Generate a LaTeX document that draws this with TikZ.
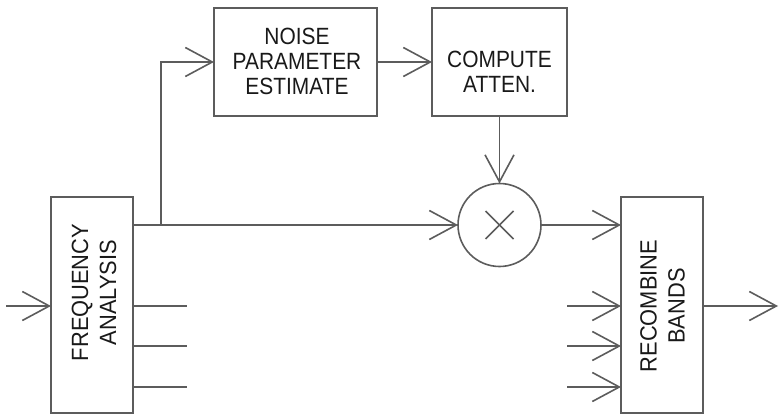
\documentclass[tikz,border=0pt]{standalone}
\usepackage{fontspec}
\setmainfont{Liberation Sans}
% slightly condensed faces for the block captions
\newfontfamily\flatcaption[FakeStretch=0.89]{Liberation Sans}
\newfontfamily\tallcaption[FakeStretch=0.93]{Liberation Sans}
\usetikzlibrary{arrows.meta}
\definecolor{linegray}{RGB}{92,92,92}
\definecolor{inkblack}{RGB}{25,25,25}
\begin{document}
\begin{tikzpicture}[x=1pt,y=-1pt,
  every node/.style={inner sep=0pt, outer sep=0pt},
  blockbox/.style={draw=linegray, line width=1.6pt, rectangle},
  flat text/.style={text=inkblack, align=center, font=\flatcaption\fontsize{23.5}{25}\selectfont},
  upright text/.style={text=inkblack, align=center, rotate=90, font=\tallcaption\fontsize{23.5}{28}\selectfont},
  wire/.style={draw=linegray, line width=1.6pt},
  arr/.style={wire, -{Straight Barb[length=27pt,width=29pt,line width=1.6pt]}}]
\useasboundingbox (0,0) rectangle (779,414);

% blocks
\node[blockbox, minimum width=82pt, minimum height=216pt] (fa) at (92,305) {};
\node[upright text] (fatext) at (94,292.5) {FREQUENCY\\ANALYSIS};
\node[blockbox, minimum width=163pt, minimum height=108pt] (ne) at (295.5,62) {};
\node[flat text] (netext) at (297,61.5) {NOISE\\PARAMETER\\ESTIMATE};
\node[blockbox, minimum width=135pt, minimum height=108pt] (ca) at (499.5,62) {};
\node[flat text] (catext) at (499.5,72) {COMPUTE\\ATTEN.};
\node[draw=linegray, line width=1.6pt, circle, minimum size=83pt] (mul) at (499.5,225) {};
\node[blockbox, minimum width=82pt, minimum height=216pt] (rb) at (662,305) {};
\node[upright text] (rbtext) at (662.5,306) {RECOMBINE\\BANDS};

% free ends
\coordinate (in) at (6,306);
\coordinate (out) at (778,306);
\coordinate (j) at (161,225);
\coordinate (s1) at (187,306);
\coordinate (s2) at (187,346);
\coordinate (s3) at (187,387);
\coordinate (r1) at (567,306);
\coordinate (r2) at (567,346);
\coordinate (r3) at (567,387);

% multiplier cross
\draw[wire] (mul.center) ++(-14,-14) -- ++(28,28);
\draw[wire] (mul.center) ++(-14,14) -- ++(28,-28);

% connectors
\draw[arr] (in) -- (fa.west |- in);
\draw[wire] (fa.east |- s1) -- (s1);
\draw[wire] (fa.east |- s2) -- (s2);
\draw[wire] (fa.east |- s3) -- (s3);
\draw[arr] (fa.east |- mul.west) -- (mul.west);
\draw[arr] (j) |- (ne.west);
\draw[arr] (ne.east) -- (ca.west);
\draw[arr] (ca.south) -- (mul.north);
\draw[arr] (mul.east) -- (rb.west |- mul.east);
\draw[arr] (r1) -- (rb.west |- r1);
\draw[arr] (r2) -- (rb.west |- r2);
\draw[arr] (r3) -- (rb.west |- r3);
\draw[arr] (rb.east |- out) -- (out);
\end{tikzpicture}
\end{document}
